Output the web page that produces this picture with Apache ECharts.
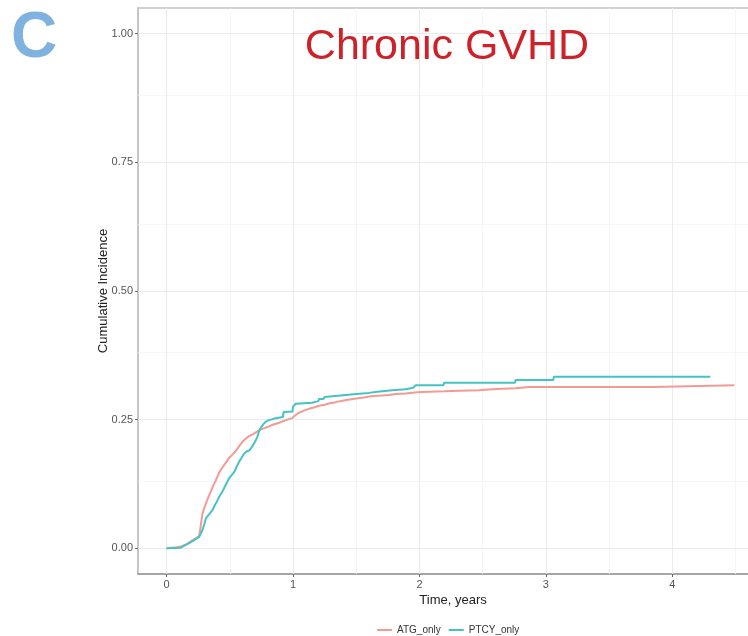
<!DOCTYPE html>
<html>
<head>
<meta charset="utf-8">
<title>Chronic GVHD</title>
<script src="https://cdn.jsdelivr.net/npm/echarts@6/dist/echarts.min.js"></script>
<style>
  html, body { margin: 0; padding: 0; background: #ffffff; overflow: hidden; }
  /* the panel runs past the right edge of the window, so the canvas is wider than it */
  #chart { width: 800px; height: 636px; }
</style>
</head>
<body>
<div id="chart"></div>
<script>
// Cumulative incidence of chronic GVHD: [time in years, incidence].
// Repeated times mark the visible vertical jumps on the later plateaus.
const atgOnly = [
  [0, 0], [0.08, 0.002], [0.12, 0.004], [0.16, 0.008], [0.2, 0.015], [0.23, 0.019],
  [0.257, 0.024], [0.265, 0.034], [0.27, 0.045], [0.283, 0.067], [0.30, 0.08],
  [0.32, 0.093], [0.336, 0.103], [0.36, 0.117], [0.389, 0.132], [0.415, 0.147],
  [0.441, 0.157], [0.47, 0.167], [0.494, 0.176], [0.52, 0.182], [0.547, 0.189],
  [0.575, 0.199], [0.6, 0.207], [0.625, 0.213], [0.652, 0.218], [0.678, 0.221],
  [0.718, 0.227], [0.745, 0.231], [0.78, 0.234], [0.81, 0.237], [0.85, 0.241],
  [0.89, 0.244], [0.942, 0.249], [0.994, 0.253], [1.02, 0.259], [1.047, 0.263],
  [1.08, 0.267], [1.126, 0.271], [1.17, 0.274], [1.205, 0.277], [1.25, 0.279],
  [1.29, 0.282], [1.337, 0.284], [1.40, 0.287], [1.45, 0.289], [1.5, 0.291],
  [1.56, 0.293], [1.627, 0.296], [1.70, 0.297], [1.76, 0.298], [1.812, 0.3],
  [1.89, 0.301], [1.98, 0.303], [2.075, 0.304], [2.2, 0.305], [2.31, 0.306],
  [2.47, 0.307], [2.576, 0.309], [2.66, 0.31], [2.76, 0.311], [2.866, 0.3135],
  [3.845, 0.3135], [3.85, 0.317], [4.49, 0.317]
];
const ptcyOnly = [
  [0, 0], [0.11, 0.001], [0.14, 0.005], [0.178, 0.01], [0.22, 0.016], [0.257, 0.022],
  [0.27, 0.028], [0.283, 0.035], [0.297, 0.046], [0.31, 0.058], [0.336, 0.066],
  [0.362, 0.074], [0.382, 0.084], [0.402, 0.093], [0.42, 0.102], [0.441, 0.11],
  [0.467, 0.123], [0.494, 0.136], [0.514, 0.142], [0.534, 0.148], [0.553, 0.158],
  [0.573, 0.168], [0.593, 0.176], [0.613, 0.184], [0.632, 0.188], [0.652, 0.19],
  [0.672, 0.196], [0.692, 0.204], [0.705, 0.21], [0.718, 0.217], [0.731, 0.228],
  [0.75, 0.236], [0.771, 0.243], [0.79, 0.247], [0.81, 0.249], [0.85, 0.252],
  [0.92, 0.255], [0.925, 0.265], [0.995, 0.266], [1.0, 0.275], [1.02, 0.281],
  [1.15, 0.283], [1.155, 0.286], [1.20, 0.286], [1.205, 0.29], [1.24, 0.29],
  [1.25, 0.294], [1.417, 0.298], [1.50, 0.300], [1.60, 0.302], [1.667, 0.304],
  [1.785, 0.307], [1.89, 0.309], [1.95, 0.312], [1.97, 0.317], [2.19, 0.317],
  [2.194, 0.3217], [2.755, 0.3217], [2.76, 0.327], [3.058, 0.327], [3.063, 0.3333],
  [4.30, 0.3333]
];

const seriesNames = ['ATG_only', 'PTCY_only'];
const xTicks = [0, 1, 2, 3, 4];
const xMinorGrid = [0.5, 1.5, 2.5, 3.5, 4.5];
const yTicks = [0, 0.25, 0.5, 0.75, 1.0];
const yMinorGrid = [0.125, 0.375, 0.625, 0.875];

// ggplot-style 5% padding around the data range
const xDataMax = 4.53;
const xPad = 0.05 * xDataMax;
const yPad = 0.05;

const chart = echarts.init(document.getElementById('chart'), null, { renderer: 'canvas' });

const gridLine = (value, axis, major) => ({
  [axis]: value,
  lineStyle: { color: major ? '#ebebeb' : '#f4f4f4', width: major ? 1.1 : 0.8, type: 'solid' }
});

const option = {
  animation: false,
  backgroundColor: '#ffffff',
  textStyle: { fontFamily: 'Liberation Sans, Arial, sans-serif' },
  graphic: [
    {
      type: 'text', x: 11, y: 7, z: 100,
      style: { text: 'C', fill: '#7fb2de', textVerticalAlign: 'top',
        font: 'bold 64px "Liberation Sans", Arial, sans-serif' }
    },
    {
      type: 'text', x: 447, y: 26, z: 100,
      style: { text: 'Chronic GVHD', fill: '#cc2229', textAlign: 'center', textVerticalAlign: 'top',
        font: '43px "Liberation Sans", Arial, sans-serif' }
    }
  ],
  grid: {
    left: 138, top: 8, width: 630, bottom: 62,
    show: true, borderColor: '#c2c2c2', borderWidth: 1.5, backgroundColor: '#ffffff'
  },
  legend: {
    data: seriesNames,
    left: 372, top: 620,
    icon: 'rect', itemWidth: 15, itemHeight: 2, itemGap: 8,
    textStyle: { fontSize: 10, color: '#333333' }
  },
  xAxis: {
    type: 'value',
    min: -xPad, max: xDataMax + xPad,
    name: 'Time, years', nameLocation: 'middle', nameGap: 20, nameMoveOverlap: false,
    nameTextStyle: { fontSize: 13, color: '#222222' },
    axisLine: { show: true, onZero: false, lineStyle: { color: '#a6a6a6', width: 2 } },
    axisTick: { show: true, length: 3, customValues: xTicks, lineStyle: { color: '#666666' } },
    axisLabel: { customValues: xTicks, fontSize: 11, color: '#555555', margin: 5,
      formatter: v => String(Math.round(v)) },
    splitLine: { show: false }
  },
  yAxis: {
    type: 'value',
    min: -yPad, max: 1 + yPad,
    name: 'Cumulative Incidence', nameLocation: 'middle', nameGap: 28, nameRotate: 90,
    nameMoveOverlap: false,
    nameTextStyle: { fontSize: 13, color: '#222222' },
    axisLine: { show: true, onZero: false, lineStyle: { color: '#c2c2c2', width: 1.5 } },
    axisTick: { show: true, length: 3, customValues: yTicks, lineStyle: { color: '#666666' } },
    axisLabel: { customValues: yTicks, fontSize: 11, color: '#555555', margin: 5,
      formatter: v => v.toFixed(2) },
    splitLine: { show: false }
  },
  series: [
    {
      // panel gridlines, kept underneath the curves
      type: 'line', name: 'grid', data: [], silent: true, z: 1,
      markLine: {
        z: 1, silent: true, symbol: ['none', 'none'], label: { show: false }, animation: false,
        emphasis: { disabled: true },
        data: [
          ...xMinorGrid.map(v => gridLine(v, 'xAxis', false)),
          ...yMinorGrid.map(v => gridLine(v, 'yAxis', false)),
          ...xTicks.map(v => gridLine(v, 'xAxis', true)),
          ...yTicks.map(v => gridLine(v, 'yAxis', true))
        ]
      }
    },
    {
      name: seriesNames[0], type: 'line', data: atgOnly,
      showSymbol: false, z: 3,
      lineStyle: { color: '#f49a93', width: 2 }, itemStyle: { color: '#f49a93' }
    },
    {
      name: seriesNames[1], type: 'line', data: ptcyOnly,
      showSymbol: false, z: 4,
      lineStyle: { color: '#45c3c4', width: 2 }, itemStyle: { color: '#45c3c4' }
    }
  ]
};

chart.setOption(option);
</script>
</body>
</html>
